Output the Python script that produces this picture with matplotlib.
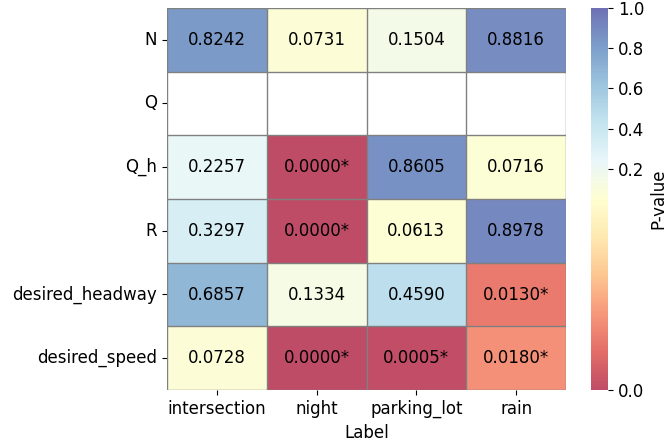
import matplotlib
matplotlib.use("Agg")
import matplotlib.pyplot as plt
from matplotlib.colors import TwoSlopeNorm
import numpy as np
import pandas as pd
import seaborn as sns

rows = ["N", "Q", "Q_h", "R", "desired_headway", "desired_speed"]
cols = ["intersection", "night", "parking_lot", "rain"]

p_intersection = [0.8242, np.nan, 0.2257, 0.3297, 0.6857, 0.0728]
p_night = [0.0731, np.nan, 0.0000, 0.0000, 0.1334, 0.0000]
p_parking_lot = [0.1504, np.nan, 0.8605, 0.0613, 0.4590, 0.0005]
p_rain = [0.8816, np.nan, 0.0716, 0.8978, 0.0130, 0.0180]

df = pd.DataFrame(
    {"intersection": p_intersection, "night": p_night,
     "parking_lot": p_parking_lot, "rain": p_rain},
    index=rows,
)[cols]

labels = df.map(lambda v: "" if pd.isna(v) else (f"{v:.4f}*" if v < 0.05 else f"{v:.4f}"))

W, H = 668, 444
fig = plt.figure(figsize=(W / 100, H / 100), dpi=100)
ax = fig.add_axes([167 / W, 54 / H, 399 / W, 382 / H])
cax = fig.add_axes([591 / W, 54 / H, 17 / W, 382 / H])

norm = TwoSlopeNorm(vmin=0.0, vcenter=0.05, vmax=1.0)
sns.heatmap(
    df, ax=ax, cbar_ax=cax, cmap="RdYlBu", norm=norm, alpha=0.7,
    annot=labels, fmt="", annot_kws={"fontsize": 12, "color": "black"},
    linewidths=0,
    cbar_kws={"ticks": [0.0, 0.2, 0.4, 0.6, 0.8, 1.0]},
)
# cell borders, including the empty row
for i in range(len(rows) + 1):
    ax.axhline(i, color="gray", lw=1)
for j in range(len(cols) + 1):
    ax.axvline(j, color="gray", lw=1)

ax.set_xlabel("Label", fontsize=12)
ax.set_ylabel("")
ax.tick_params(labelsize=12)
plt.setp(ax.get_yticklabels(), rotation=0)
cax.tick_params(labelsize=12)
cax.set_ylabel("P-value", fontsize=12)
cax.set_yticklabels(["0.0", "0.2", "0.4", "0.6", "0.8", "1.0"])

plt.savefig("out.png", dpi=100)
